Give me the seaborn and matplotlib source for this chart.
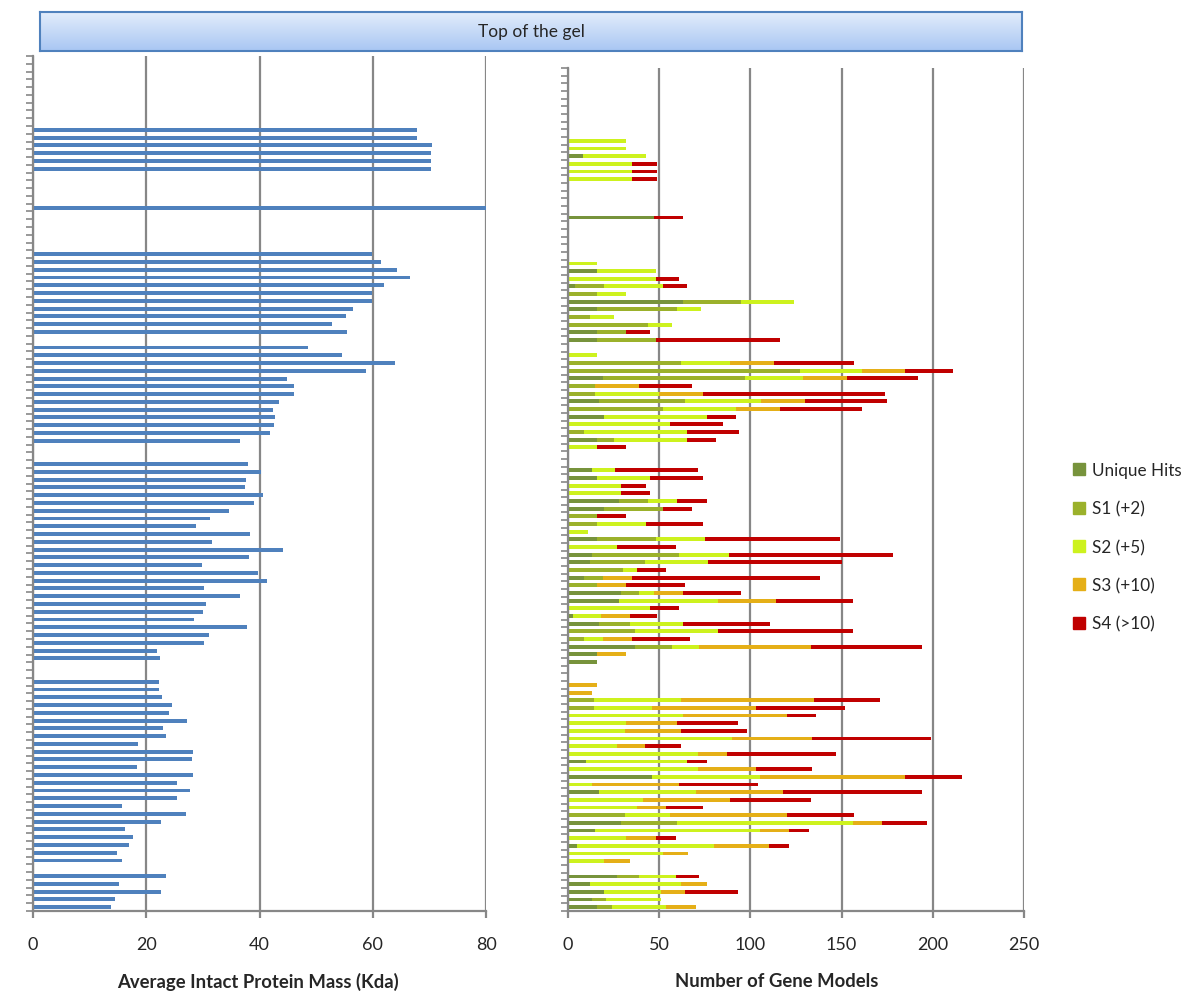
import numpy as np
import pandas as pd
import matplotlib.pyplot as plt
from matplotlib.patches import Patch
from matplotlib.colors import LinearSegmentedColormap
import seaborn as sns

sns.set_style('white')
plt.rcParams['font.family'] = ['Lato', 'DejaVu Sans']

NA = np.nan

# one entry per gel slice, top of the gel first; NA = empty slice
mass = [NA, NA, NA, NA, NA, NA, NA, NA, NA,
        67.8, 67.8, 70.5, 70.3, 70.3, 70.3,
        NA, NA, NA, NA,
        80.2,
        NA, NA, NA, NA, NA,
        59.9, 61.5, 64.3, 66.5, 61.9, 59.9, 59.9, 56.5, 55.3, 52.8, 55.5,
        NA,
        48.5, 54.6, 64.0, 58.8, 44.9, 46.1, 46.1, 43.4, 42.3, 42.7, 42.5, 41.9, 36.5,
        NA, NA,
        37.9, 40.2, 37.7, 37.5, 40.7, 39.1, 34.6, 31.2, 28.8, 38.4, 31.6, 44.1, 38.1,
        29.8, 39.8, 41.3, 30.2, 36.5, 30.5, 30.1, 28.5, 37.8, 31.0, 30.2, 21.9, 22.5,
        NA, NA,
        22.3, 22.2, 22.8, 24.5, 24.1, 27.2, 23.0, 23.5, 18.6, 28.3, 28.0, 18.4,
        28.3, 25.5, 27.7, 25.5, 15.7, 27.0, 22.6, 16.3, 17.6, 17.0, 14.9, 15.7,
        NA,
        23.4, 15.1, 22.6, 14.4, 13.8]

unique = [NA, NA, NA, NA, NA, NA, NA, NA, NA,
          0, 0, 8, 0, 0, 0,
          NA, NA, NA, NA,
          47,
          NA, NA, NA, NA, NA,
          0, 16, 0, 4, 0, 63, 16, 0, 0, 16, 16,
          NA,
          0, 0, 0, 19, 0, 0, 17, 0, 20, 0, 0, 16, 0,
          NA, NA,
          13, 16, 0, 0, 28, 20, 0, 0, 0, 16, 0, 13, 12,
          0, 9, 0, 29, 28, 0, 3, 17, 0, 0, 37, 16, 16,
          NA, NA,
          0, 0, 0, 0, 0, 0, 0, 0, 0, 0, 10, 0,
          46, 0, 17, 0, 0, 0, 29, 15, 0, 5, 0, 0,
          NA,
          27, 12, 20, 13, 16]

s1 = [NA, NA, NA, NA, NA, NA, NA, NA, NA,
      0, 0, 0, 0, 0, 0,
      NA, NA, NA, NA,
      0,
      NA, NA, NA, NA, NA,
      0, 0, 0, 16, 16, 32, 44, 12, 44, 16, 32,
      NA,
      0, 62, 127, 78, 15, 15, 47, 52, 0, 0, 9, 9, 0,
      NA, NA,
      0, 0, 0, 0, 16, 32, 16, 16, 0, 32, 0, 48, 30,
      30, 10, 16, 10, 0, 0, 0, 17, 37, 9, 20, 0, 0,
      NA, NA,
      0, 0, 14, 14, 0, 0, 0, 0, 0, 0, 0, 0,
      0, 0, 0, 0, 0, 31, 31, 0, 0, 0, 0, 0,
      NA,
      12, 0, 0, 8, 8]

s2 = [NA, NA, NA, NA, NA, NA, NA, NA, NA,
      32, 32, 35, 35, 35, 35,
      NA, NA, NA, NA,
      0,
      NA, NA, NA, NA, NA,
      16, 32, 48, 32, 16, 29, 13, 13, 13, 0, 0,
      NA,
      16, 27, 34, 32, 0, 35, 42, 40, 56, 56, 56, 40, 16,
      NA, NA,
      13, 29, 29, 29, 16, 0, 0, 27, 11, 27, 27, 27, 35,
      8, 0, 0, 8, 54, 45, 15, 29, 45, 10, 15, 0, 0,
      NA, NA,
      0, 0, 48, 32, 63, 32, 31, 90, 27, 71, 55, 71,
      59, 13, 53, 41, 38, 25, 96, 90, 32, 75, 52, 20,
      NA,
      20, 50, 31, 30, 30]

s3 = [NA, NA, NA, NA, NA, NA, NA, NA, NA,
      0, 0, 0, 0, 0, 0,
      NA, NA, NA, NA,
      0,
      NA, NA, NA, NA, NA,
      0, 0, 0, 0, 0, 0, 0, 0, 0, 0, 0,
      NA,
      0, 24, 24, 24, 24, 24, 24, 24, 0, 0, 0, 0, 0,
      NA, NA,
      0, 0, 0, 0, 0, 0, 0, 0, 0, 0, 0, 0, 0,
      0, 16, 16, 16, 32, 0, 16, 0, 0, 16, 61, 16, 0,
      NA, NA,
      16, 13, 73, 57, 57, 28, 31, 44, 15, 16, 0, 32,
      80, 48, 48, 48, 16, 64, 16, 16, 16, 30, 14, 14,
      NA,
      0, 14, 13, 0, 16]

s4 = [NA, NA, NA, NA, NA, NA, NA, NA, NA,
      0, 0, 0, 14, 14, 14,
      NA, NA, NA, NA,
      16,
      NA, NA, NA, NA, NA,
      0, 0, 13, 13, 0, 0, 0, 0, 0, 13, 68,
      NA,
      0, 44, 26, 39, 29, 100, 45, 45, 16, 29, 29, 16, 16,
      NA, NA,
      45, 29, 14, 16, 16, 16, 16, 31, 0, 74, 32, 90, 73,
      16, 103, 32, 32, 42, 16, 15, 48, 74, 32, 61, 0, 0,
      NA, NA,
      0, 0, 36, 49, 16, 33, 36, 65, 20, 60, 11, 31,
      31, 43, 76, 44, 20, 37, 25, 11, 11, 11, 0, 0,
      NA,
      13, 0, 29, 0, 0]

series = ['Unique Hits', 'S1 (+2)', 'S2 (+5)', 'S3 (+10)', 'S4 (>10)']
colors = ['#77933C', '#9BB12B', '#CDF21E', '#E5AF17', '#C00000']
blue = '#4F81BD'
grid = '#878787'

rows = [str(i) for i in range(len(mass))]
W, H = 1200, 1004

fig = plt.figure(figsize=(12, 10.04), dpi=100)
ax1 = fig.add_axes([33 / W, 1 - 912 / H, 453 / W, 855 / H])
ax2 = fig.add_axes([568 / W, 1 - 912 / H, 456 / W, 843 / H])

# left: average intact mass
left = pd.DataFrame({'row': rows, 'mass': mass}).dropna()
sns.barplot(data=left, x='mass', y='row', order=rows, orient='h', color=blue,
            saturation=1, width=0.5, errorbar=None, linewidth=0, ax=ax1)

# right: stacked gene model counts, drawn as cumulative bars back to front
right = pd.DataFrame(dict(zip(series, [unique, s1, s2, s3, s4])))
right['row'] = rows
cum = right[series].cumsum(axis=1)
for name, c in reversed(list(zip(series, colors))):
    d = pd.DataFrame({'row': rows, 'v': cum[name]})
    d = d[right[name] > 0]
    sns.barplot(data=d, x='v', y='row', order=rows, orient='h', color=c,
                saturation=1, width=0.5, errorbar=None, linewidth=0, ax=ax2)

for ax, top, ticks in [(ax1, 80, [0, 20, 40, 60, 80]), (ax2, 250, [0, 50, 100, 150, 200, 250])]:
    ax.set_xlim(0, top)
    ax.set_xticks(ticks)
    ax.set_ylim(len(rows) - 0.5, -0.5)
    ax.set_yticks(np.arange(-0.5, len(rows)))
    ax.set_yticklabels([])
    ax.set_ylabel('')
    ax.grid(axis='x', color=grid, lw=1.6)
    ax.set_axisbelow(True)
    ax.tick_params(axis='y', direction='out', length=5, width=1.2, color=grid, left=True)
    ax.tick_params(axis='x', direction='out', length=5, width=1.6, color=grid, bottom=True,
                   labelsize=13, pad=13)
    for s in ['top', 'right']:
        ax.spines[s].set_visible(False)
    for s in ['left', 'bottom']:
        ax.spines[s].set_color(grid)
        ax.spines[s].set_linewidth(1.6)

ax1.set_xlabel('Average Intact Protein Mass (Kda)', fontsize=13.3, fontweight='bold')
ax1.xaxis.set_label_coords(0.497, -61 / 855)
ax2.set_xlabel('Number of Gene Models', fontsize=13.3, fontweight='bold')
ax2.xaxis.set_label_coords((777 - 568) / 456, -61 / 843)

# banner
bax = fig.add_axes([40 / W, 1 - 52 / H, 982 / W, 39 / H])
cmap = LinearSegmentedColormap.from_list('gel', ['#E2ECFB', '#A9C7F3'])
bax.imshow(np.linspace(0, 1, 50)[:, None], aspect='auto', cmap=cmap, extent=[0, 1, 0, 1])
bax.set_xticks([])
bax.set_yticks([])
for s in bax.spines.values():
    s.set_color(blue)
    s.set_linewidth(1.5)
bax.text(0.5, 0.5, 'Top of the gel', ha='center', va='center', fontsize=12.5)

handles = [Patch(color=c, label=s) for s, c in zip(series, colors)]
fig.legend(handles=handles, loc='upper left', bbox_to_anchor=(1058 / W, 1 - 448 / H),
           frameon=False, fontsize=12.3, handlelength=0.7, handleheight=0.7,
           handletextpad=0.4, labelspacing=1.3)

fig.savefig('out.png', dpi=100)
